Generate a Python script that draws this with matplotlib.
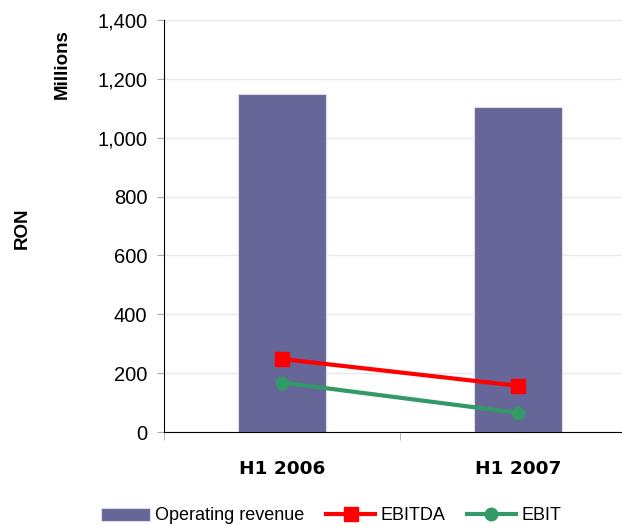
import matplotlib
matplotlib.use('Agg')
import matplotlib.pyplot as plt
from matplotlib.ticker import FuncFormatter, FixedLocator

categories = ['H1 2006', 'H1 2007']
revenue = [1147, 1104]
ebitda = [248, 157]
ebit = [168, 65]

plt.rcParams['font.family'] = ['Liberation Sans', 'DejaVu Sans']

fig = plt.figure(figsize=(6.22, 5.27), dpi=100)
ax = fig.add_axes([164/622, 1-432/527, 472/622, 412/527])

x = list(range(len(categories)))
b = ax.bar(x, revenue, width=0.37, color='#666699', edgecolor='#dcdce8', linewidth=0.8,
           label='Operating revenue', zorder=2)
l1, = ax.plot(x, ebitda, color='#ff0000', lw=3, marker='s', ms=10, label='EBITDA', zorder=3)
l2, = ax.plot(x, ebit, color='#339966', lw=3, marker='o', ms=9, label='EBIT', zorder=3)

ax.set_xlim(-0.5, 1.5)
ax.set_ylim(0, 1400)
ax.set_yticks(range(0, 1401, 200))
ax.yaxis.set_major_formatter(FuncFormatter(lambda v, p: '{:,.0f}'.format(v)))
ax.tick_params(axis='y', labelsize=14.5, length=5, color='#aaaaaa', pad=7)
ax.grid(axis='y', color='#e8e8e8', lw=1, zorder=0)

ax.set_xticks(x)
ax.set_xticklabels(categories, fontfamily='DejaVu Sans', fontweight='bold', fontsize=13.3)
ax.tick_params(axis='x', which='major', length=0, pad=20)
ax.xaxis.set_minor_locator(FixedLocator([-0.5, 0.5, 1.5]))
ax.tick_params(axis='x', which='minor', length=6, color='#aaaaaa')

for s in ['top', 'right']:
    ax.spines[s].set_visible(False)
ax.spines['left'].set_color('black')
ax.spines['bottom'].set_color('black')

fig.text(62/622, 1-64/527, 'Millions', rotation=90, fontweight='bold', fontsize=13.5,
         ha='center', va='center')
fig.text(22/622, 1-228/527, 'RON', rotation=90, fontweight='bold', fontsize=13.5,
         ha='center', va='center')

fig.legend([b, l1, l2], ['Operating revenue', 'EBITDA', 'EBIT'],
           loc='center', bbox_to_anchor=(331/622, 1-516/527), ncol=3, frameon=False,
           fontsize=13, handlelength=2.7, handletextpad=0.3, columnspacing=1.2,
           borderpad=0)

fig.savefig('out.png', dpi=100)
